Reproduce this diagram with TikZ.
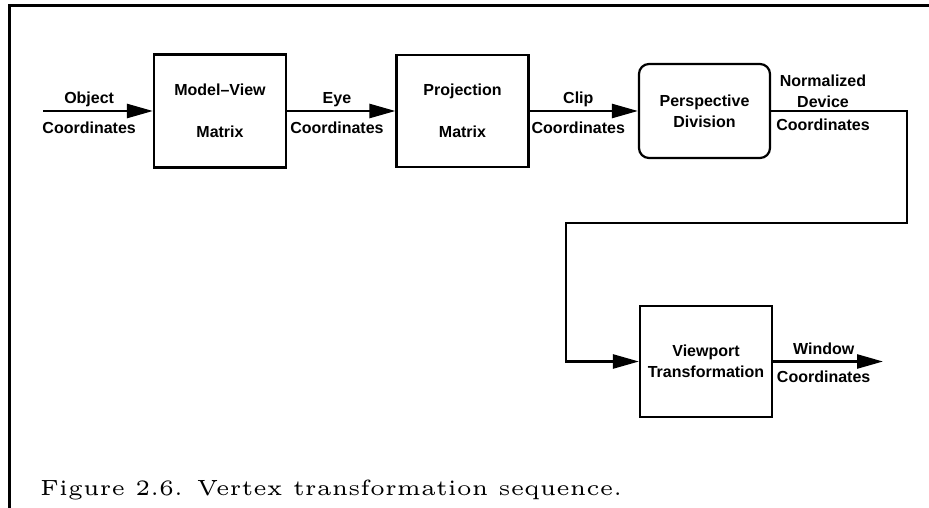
\documentclass[tikz,border=0pt]{standalone}
\usepackage{fontspec}
\newfontfamily\diagfont{Liberation Sans}
\newfontfamily\capfont{lmroman5-regular.otf}
\usetikzlibrary{positioning, arrows.meta}

\begin{document}
\begin{tikzpicture}[x=1pt, y=-1pt,
        box/.style={draw, line width=2.2pt, minimum width=132pt, inner sep=2pt, align=center,
                    font=\diagfont\bfseries\fontsize{16}{21}\selectfont},
        flow/.style={line width=2.6pt, -{Triangle[length=26pt, width=14pt]}},
        lbl/.style={inner sep=4pt, text height=0.72em, text depth=0.22em, align=center,
                    font=\diagfont\bfseries\fontsize{16}{21}\selectfont}]
        \useasboundingbox (0,0) rectangle (929,508);

        % page frame
        \draw [line width=3pt] (929,5.5) -- (9.5,5.5) -- (9.5,508);

        % stages
        \node (modelview) [box, minimum height=113pt] at (220,111) {Model\textendash View\\[21pt]Matrix};
        \node (projection) [box, minimum height=112pt] at (462.5,111) {Projection\\[21pt]Matrix};
        \node (perspective) [box, minimum height=94pt, minimum width=131pt, rounded corners=10pt] at (704.5,111) {Perspective\\Division};
        \node (viewport) [box, minimum height=111pt] at (706,361.5) {Viewport\\Transformation};

        \coordinate (objin) at (43,111);
        \coordinate (winout) at (883,361.5);
        \coordinate (bendR) at (907,223);
        \coordinate (bendL) at (566,223);

        \draw [flow] (objin) -- (modelview)
            node [lbl, pos=0.42, above] {Object}
            node [lbl, pos=0.42, below=10pt] {Coordinates};
        \draw [flow] (modelview) -- (projection)
            node [lbl, pos=0.46, above] {Eye}
            node [lbl, pos=0.46, below=10pt] {Coordinates};
        \draw [flow] (projection) -- (perspective)
            node [lbl, pos=0.45, above] {Clip}
            node [lbl, pos=0.45, below=10pt] {Coordinates};
        \draw [flow] (perspective.east) -| (bendR) -- (bendL) |- (viewport.west);
        \draw [flow] (viewport) -- (winout)
            node [lbl, pos=0.46, above] {Window}
            node [lbl, pos=0.46, below=8pt] {Coordinates};

        \node (ndc) [lbl, above, inner sep=1pt] at (823,111) {Normalized\\Device};
        \node (ndccoord) [lbl, below=8pt] at (823,111) {Coordinates};

        \node (caption) [anchor=base west, inner sep=0pt, font=\capfont\fontsize{22}{26}\selectfont] at (40,495) {Figure 2.6. Vertex transformation sequence.};
\end{tikzpicture}
\end{document}
